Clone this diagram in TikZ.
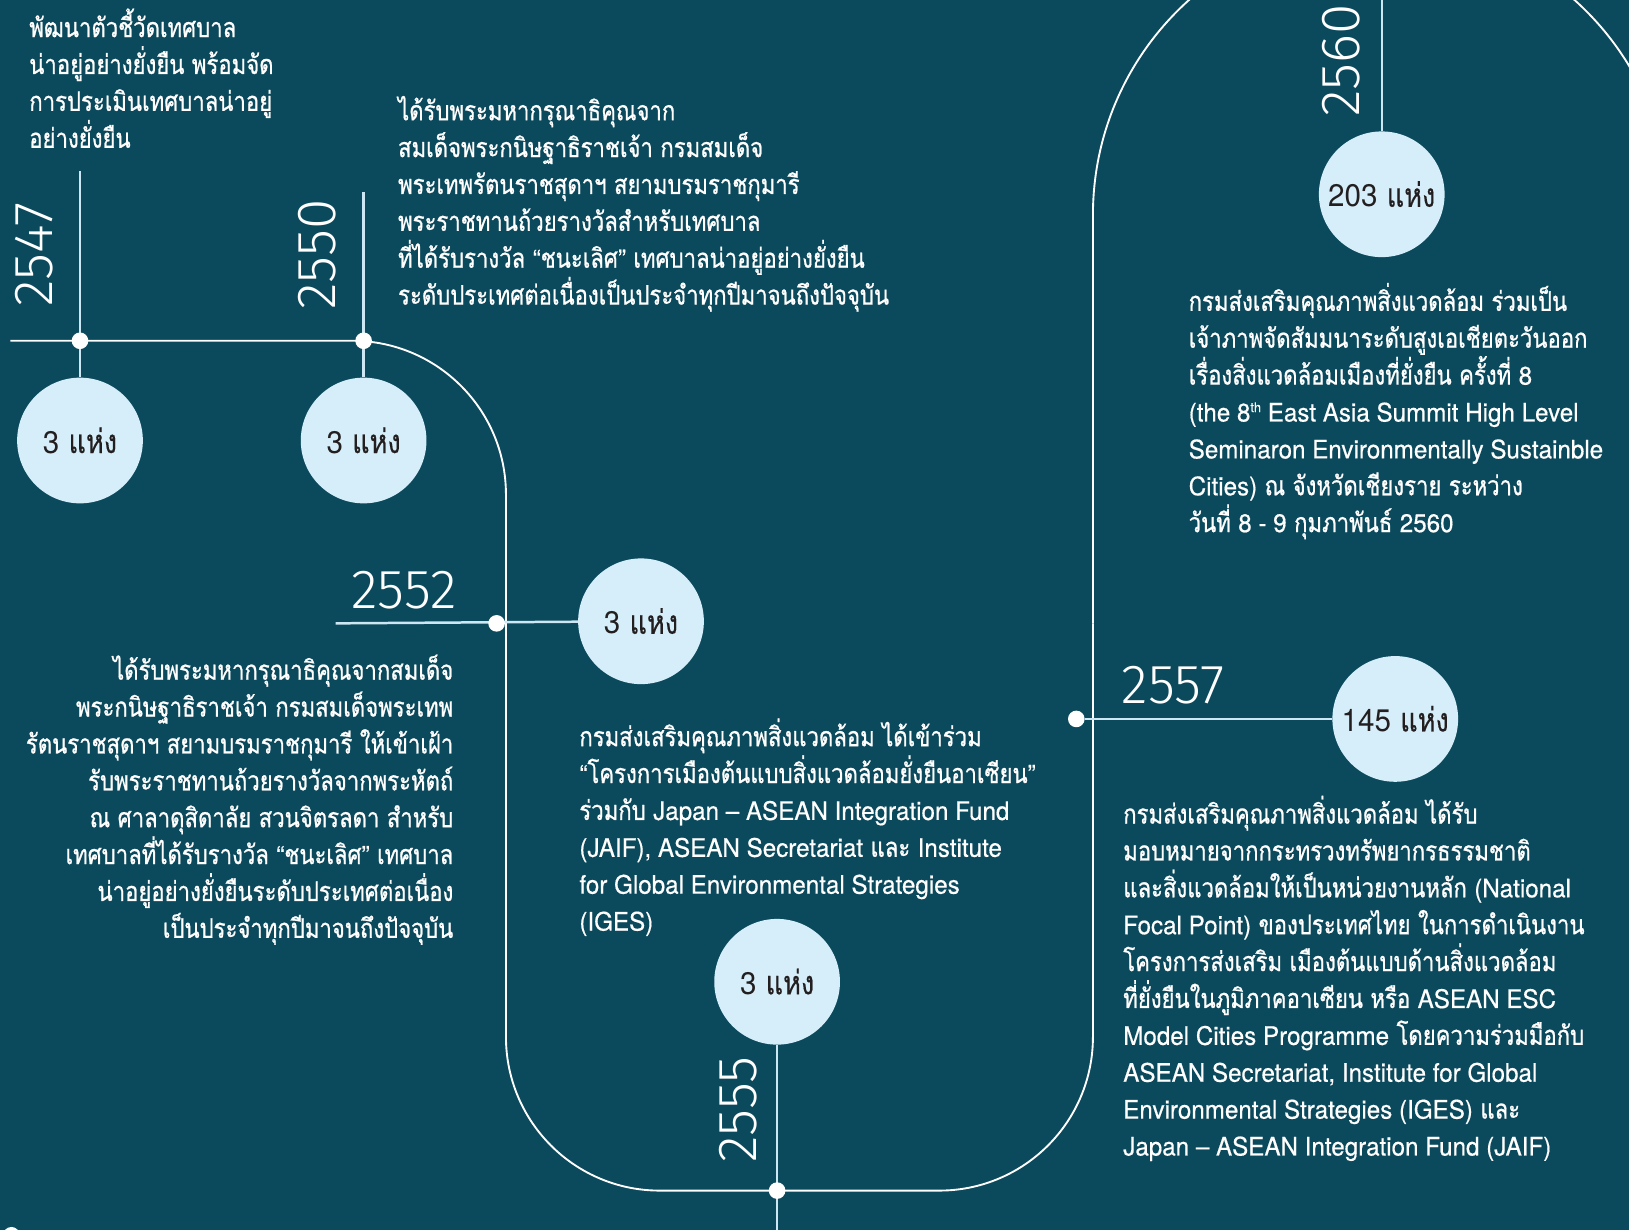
\documentclass[tikz,border=0pt]{standalone}
\usepackage{fontspec}
\setmainfont{TeX Gyre Heros}
\newfontfamily\thai[Script=Thai,Scale=1.06,FakeStretch=0.82,FakeBold=0.8]{Loma}
\newfontfamily\lat[FakeStretch=0.95,FakeBold=0.5]{TeX Gyre Heros}
\newfontfamily\thaiplain[Script=Thai,Scale=1.06,FakeStretch=0.82,FakeBold=0.3]{Loma}
\newfontfamily\latplain[FakeStretch=0.95]{TeX Gyre Heros}
\newfontfamily\yearfont{Fira Sans Light}
\usepackage{tikz}
\definecolor{bgteal}{HTML}{0B4A5C}
\definecolor{bubblefill}{HTML}{D6EEF9}
\definecolor{linkblue}{HTML}{CDE8F4}
\definecolor{ink}{HTML}{231F20}
\newcommand{\fl}{\rule{0pt}{27pt}}
\tikzset{
  bubble/.style={circle,fill=bubblefill,minimum size=121pt,inner sep=0pt,text=ink,font=\thaiplain\fontsize{30}{30}\selectfont},
  dot/.style={circle,fill=white,minimum size=16pt,inner sep=0pt},
  link/.style={draw=linkblue,line width=2.4pt},
  road/.style={draw=white,line width=1.8pt},
  year/.style={text=white,inner sep=0pt,font=\yearfont\fontsize{53}{53}\selectfont},
  body/.style={text=white,inner sep=0pt,font={\thai\fontsize{24.5}{35.5}\selectfont\lineskiplimit=-40pt}},
}

\begin{document}
\begin{tikzpicture}[x=1pt,y=-1pt]
\fill[bgteal] (0,0) rectangle (1568,1184);
\useasboundingbox (0,0) rectangle (1568,1184);

% the winding road
\draw[road,rounded corners=148pt] (10,328) -- (487,328) -- (487,1146) -- (1052,1146) -- (1052,600);
\draw[road] (1052,600) -- (1052,207) arc[start angle=180,end angle=0,radius=278pt] -- (1608,700);

% bubbles
\node[bubble] (c2547) at (77,424) {{\latplain 3} แห่ง};
\node[bubble] (c2550) at (350,424) {{\latplain 3} แห่ง};
\node[bubble] (c2552) at (617,598) {{\latplain 3} แห่ง};
\node[bubble] (c2555) at (748,945) {{\latplain 3} แห่ง};
\node[bubble] (c2557) at (1343,692) {{\latplain 145} แห่ง};
\node[bubble] (c2560) at (1330,187) {{\latplain 203} แห่ง};

% links
\coordinate (t2547) at (77,165);
\coordinate (t2550) at (350,185);
\coordinate (s2552) at (323,600);
\coordinate (b2555) at (748,1184);
\coordinate (t2560) at (1330,0);
\draw[link] (t2547) -- (c2547);
\draw[link] (t2550) -- (c2550);
\draw[link] (s2552) -- (c2552);
\draw[link] (c2555) -- (b2555);
\draw[link] (t2560) -- (c2560);

% dots on the road
\node[dot] (d2547) at (77,328) {};
\node[dot] (d2550) at (350,328) {};
\node[dot] (d2552) at (478,600) {};
\node[dot] (d2555) at (748,1146) {};
\node[dot] (d2557) at (1036,692) {};
\node[dot] (dnext) at (11,1189) {};
\draw[link] (d2557) -- (c2557);

% years
\node[year,rotate=90] (y2547) at (33,245) {2547};
\node[year,rotate=90] (y2550) at (305,245) {2550};
\node[year] (y2552) at (389,568) {2552};
\node[year,rotate=90] (y2555) at (711,1068) {2555};
\node[year] (y2557) at (1129,660) {2557};
\node[year,rotate=90] (y2560) at (1291,58) {2560};

% texts
\node[body,anchor=north west,align=left] (tA) at (28,8) {\fl พัฒนาตัวชี้วัดเทศบาล\\น่าอยู่อย่างยั่งยืน พร้อมจัด\\การประเมินเทศบาลน่าอยู่\\อย่างยั่งยืน};
\node[body,anchor=north west,align=left] (tB) at (383,88.5) {\fl ได้รับพระมหากรุณาธิคุณจาก\\สมเด็จพระกนิษฐาธิราชเจ้า กรมสมเด็จ\\พระเทพรัตนราชสุดาฯ สยามบรมราชกุมารี\\พระราชทานถ้วยรางวัลสำหรับเทศบาล\\ที่ได้รับรางวัล {\lat “}ชนะเลิศ{\lat ”} เทศบาลน่าอยู่อย่างยั่งยืน\\ระดับประเทศต่อเนื่องเป็นประจำทุกปีมาจนถึงปัจจุบัน};
\node[body,anchor=north east,align=right] (tC) at (436.5,627) {\fl ได้รับพระมหากรุณาธิคุณจากสมเด็จ\\พระกนิษฐาธิราชเจ้า กรมสมเด็จพระเทพ\\รัตนราชสุดาฯ สยามบรมราชกุมารี ให้เข้าเฝ้า\\รับพระราชทานถ้วยรางวัลจากพระหัตถ์\\ณ ศาลาดุสิดาลัย สวนจิตรลดา สำหรับ\\เทศบาลที่ได้รับรางวัล {\lat “}ชนะเลิศ{\lat ”} เทศบาล\\น่าอยู่อย่างยั่งยืนระดับประเทศต่อเนื่อง\\เป็นประจำทุกปีมาจนถึงปัจจุบัน};
\node[body,anchor=north west,align=left] (tD) at (557.5,691) {\fl กรมส่งเสริมคุณภาพสิ่งแวดล้อม ได้เข้าร่วม\\{\lat “}โครงการเมืองต้นแบบสิ่งแวดล้อมยั่งยืนอาเซียน{\lat ”}\\ร่วมกับ {\lat Japan – ASEAN Integration Fund}\\{\lat (JAIF), ASEAN Secretariat} และ {\lat Institute}\\{\lat for Global Environmental Strategies}\\{\lat (IGES)}};
\node[body,anchor=north west,align=left] (tE) at (1081,765.5) {\fl กรมส่งเสริมคุณภาพสิ่งแวดล้อม ได้รับ\\มอบหมายจากกระทรวงทรัพยากรธรรมชาติ\\และสิ่งแวดล้อมให้เป็นหน่วยงานหลัก {\lat (National}\\{\lat Focal Point)} ของประเทศไทย ในการดำเนินงาน\\โครงการส่งเสริม เมืองต้นแบบด้านสิ่งแวดล้อม\\ที่ยั่งยืนในภูมิภาคอาเซียน หรือ {\lat ASEAN ESC}\\{\lat Model Cities Programme} โดยความร่วมมือกับ\\{\lat ASEAN Secretariat, Institute for Global}\\{\lat Environmental Strategies (IGES)} และ\\{\lat Japan – ASEAN Integration Fund (JAIF)}};
\node[body,anchor=north west,align=left] (tF) at (1144,272) {\fl กรมส่งเสริมคุณภาพสิ่งแวดล้อม ร่วมเป็น\\เจ้าภาพจัดสัมมนาระดับสูงเอเชียตะวันออก\\เรื่องสิ่งแวดล้อมเมืองที่ยั่งยืน ครั้งที่ {\lat 8}\\{\lat (the 8\raisebox{9pt}{\fontsize{13}{13}\selectfont th} East Asia Summit High Level}\\{\lat Seminaron Environmentally Sustainble}\\{\lat Cities)} ณ จังหวัดเชียงราย ระหว่าง\\วันที่ {\lat 8 - 9} กุมภาพันธ์ {\lat 2560}};
\end{tikzpicture}
\end{document}
